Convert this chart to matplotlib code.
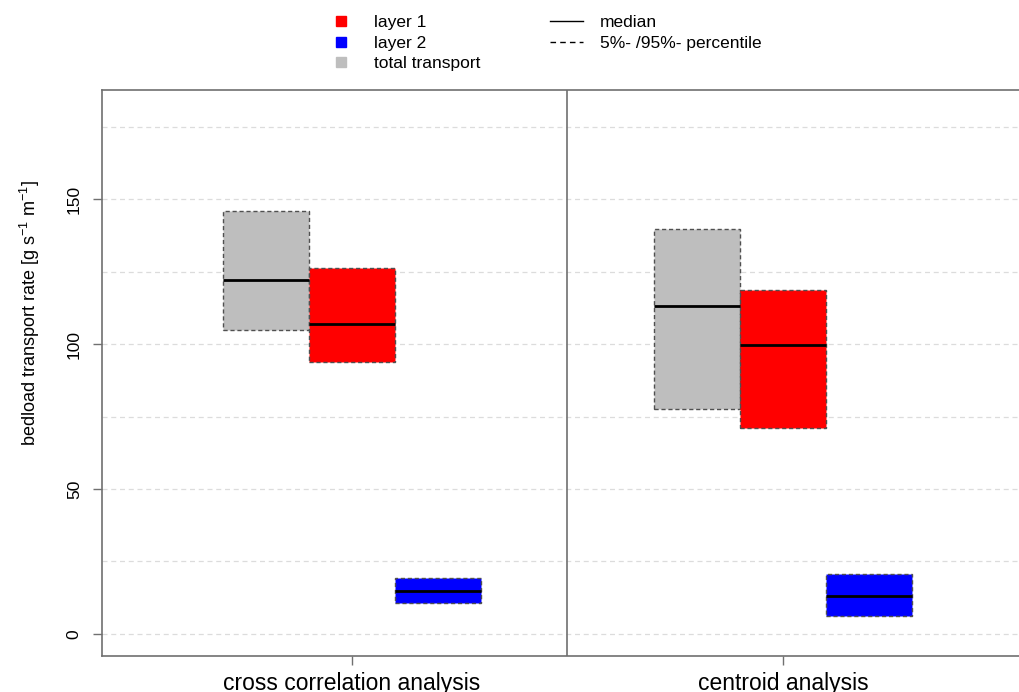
import matplotlib as mpl; mpl.use('Agg')
import matplotlib.pyplot as plt
from matplotlib.lines import Line2D
import numpy as np

plt.rcParams.update({'font.family': ['Liberation Sans', 'DejaVu Sans'], 'mathtext.fontset': 'custom',
                     'mathtext.rm': 'Liberation Sans', 'mathtext.it': 'Liberation Sans',
                     'mathtext.default': 'regular'})

# data
methods = ['cross correlation analysis', 'centroid analysis']
series = ['total transport', 'layer 1', 'layer 2']
colors = ['#BEBEBE', '#FF0000', '#0000FF']
p05 = {'total transport': [104.8, 77.6], 'layer 1': [93.8, 71.0], 'layer 2': [10.7, 6.2]}
p95 = {'total transport': [145.9, 139.7], 'layer 1': [126.2, 118.6], 'layer 2': [19.3, 20.7]}
med = {'total transport': [122.1, 113.1], 'layer 1': [106.9, 99.7], 'layer 2': [14.8, 13.1]}
yticks = [0, 50, 100, 150]
grid_y = np.arange(0, 176, 25)

fig = plt.figure(figsize=(10.19, 6.92), dpi=100)
ax = fig.add_axes([0.1001, 0.0520, 0.9136, 0.8179])
xc = np.arange(1, len(methods) + 1)
w = 0.2
for y in grid_y:
    ax.axhline(y, color='#DCDCDC', lw=0.9, ls=(0, (4, 3)), zorder=0)
for i, s in enumerate(series):
    lo = np.array(p05[s]); hi = np.array(p95[s])
    x0 = xc - 0.3 + i * w
    ax.bar(x0, hi - lo, width=w, bottom=lo, align='edge', color=colors[i],
           edgecolor='#505050', lw=1.0, ls=(0, (3, 2)), zorder=2)
    ax.hlines(med[s], x0, x0 + w, color='black', lw=2, zorder=3)
ax.axvline(1.5, color='#707070', lw=1.2, zorder=1)

ax.set_xlim(1 - 250 / 431, 1 + 681 / 431)
ax.set_ylim(-7.6, 187.6)
ax.set_xticks(xc); ax.set_xticklabels(methods, fontsize=16.5)
ax.set_yticks(yticks); ax.set_yticklabels([str(v) for v in yticks], fontsize=12.5, rotation=90, va='center')
ax.tick_params(axis='both', length=6.5, width=1.0, color='#707070')
ax.tick_params(axis='y', pad=8)
ax.tick_params(axis='x', pad=5)
for sp in ax.spines.values():
    sp.set_color('#707070'); sp.set_linewidth(1.2)

fig.text(0.029, 1 - 313 / 692, r'bedload transport rate [g s$^{-1}$ m$^{-1}$]', rotation=90,
         ha='center', va='center', fontsize=13)

handles = [Line2D([], [], ls='none', marker='s', ms=6.5, color='#FF0000'),
           Line2D([], [], ls='none', marker='s', ms=6.5, color='#0000FF'),
           Line2D([], [], ls='none', marker='s', ms=6.5, color='#BEBEBE'),
           Line2D([], [], color='black', lw=1.0),
           Line2D([], [], color='black', lw=1.0, ls=(0, (4, 3)))]
labels = ['layer 1', 'layer 2', 'total transport', 'median', '5%- /95%- percentile']
fig.legend(handles, labels, loc='upper left', bbox_to_anchor=(325 / 1019, 1 - 15 / 692), ncol=2,
           frameon=False, fontsize=12.5, handlelength=1.9, handletextpad=0.95, columnspacing=4.0,
           labelspacing=0.31, borderpad=0, borderaxespad=0)

plt.savefig('out.png', dpi=100)
